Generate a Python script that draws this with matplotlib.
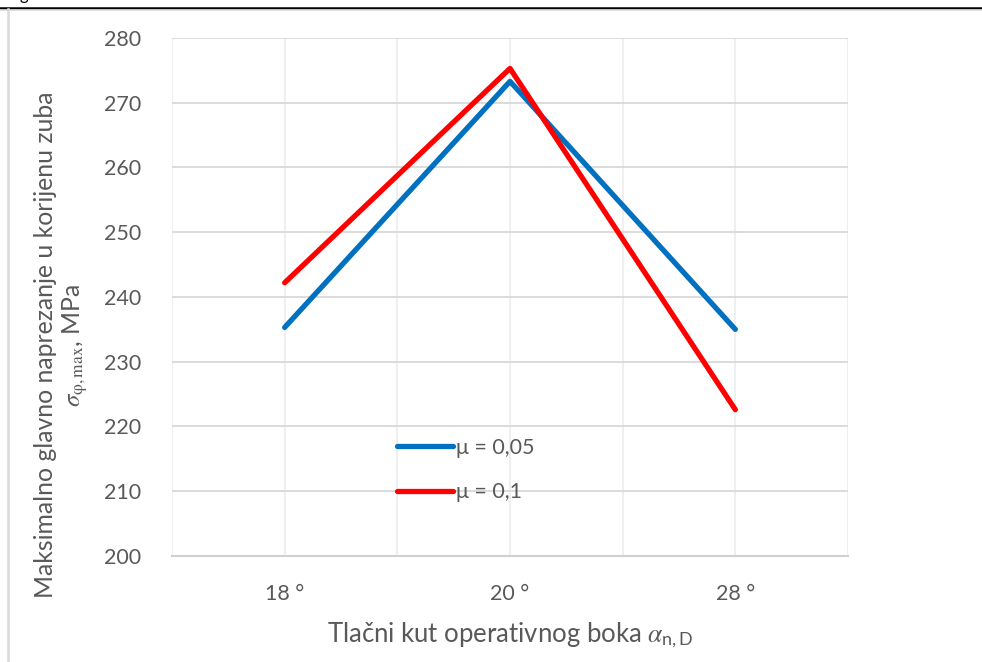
import matplotlib
matplotlib.use('Agg')
import matplotlib.pyplot as plt
from matplotlib.lines import Line2D

# data
categories = ['18 °', '20 °', '28 °']
sigma_mu005 = [235.3, 273.3, 235.0]
sigma_mu01 = [242.2, 275.3, 222.6]
labels = ['μ = 0,05', 'μ = 0,1']
yticks = [200, 210, 220, 230, 240, 250, 260, 270, 280]

plt.rcParams['font.family'] = ['Lato', 'DejaVu Sans']
plt.rcParams['mathtext.fontset'] = 'stix'

txt = '#595959'
fig = plt.figure(figsize=(9.82, 6.62), dpi=100)
ax = fig.add_axes([172 / 982, 1 - 556 / 662, 676 / 982, 518 / 662])

x = [0.5, 1.5, 2.5]
ax.plot(x, sigma_mu005, color='#0070C0', lw=3.8, solid_capstyle='round', label=labels[0])
ax.plot(x, sigma_mu01, color='#FF0000', lw=3.8, solid_capstyle='round', label=labels[1])

ax.set_xlim(0, 3)
ax.set_ylim(200, 280)
ax.set_yticks(yticks)
ax.set_xticks(x)
ax.set_xticklabels(categories)
ax.tick_params(length=0, labelsize=15.5, colors=txt, which='both')
ax.tick_params(axis='x', pad=20)
ax.tick_params(axis='y', pad=22)

# gridlines
for v in [0, 0.5, 1, 1.5, 2, 2.5, 3]:
    ax.axvline(v, color='#efefef', lw=1.5, zorder=0)
for v in yticks:
    ax.axhline(v, color='#d9d9d9', lw=1.3, zorder=0)
for s in ['top', 'right', 'left']:
    ax.spines[s].set_visible(False)
ax.spines['bottom'].set_color('#d0d0d0')
ax.spines['bottom'].set_linewidth(1.5)

ax.set_xlabel(r'Tlačni kut operativnog boka $\alpha_{\mathregular{n,D}}$', fontsize=18.5, color=txt, labelpad=12)
ax.set_ylabel('Maksimalno glavno naprezanje u korijenu zuba\n'
              r'$\sigma_{\mathrm{\varphi,max}}$, MPa', fontsize=17.8, color=txt,
              linespacing=1.2)
ax.yaxis.set_label_coords(-0.121, 0.407)

ax.legend(loc='center left', bbox_to_anchor=(378 / 982, 1 - 470 / 662), bbox_transform=fig.transFigure,
          frameon=False, fontsize=15.5, handlelength=2.6, handletextpad=0.1, labelspacing=1.15,
          labelcolor=txt)

# page decorations around the chart
fig.add_artist(Line2D([0, 1], [1 - 7.5 / 662] * 2, color='black', lw=1.8))
fig.add_artist(Line2D([0, 1], [1 - 9.5 / 662] * 2, color='#d9d9d9', lw=1.2))
fig.add_artist(Line2D([7.5 / 982] * 2, [0, 1 - 9 / 662], color='#d9d9d9', lw=1.8))
fig.text(20 / 982, 1.0, 'g', fontsize=12, va='baseline', color='black')

plt.savefig('out.png', dpi=100)
